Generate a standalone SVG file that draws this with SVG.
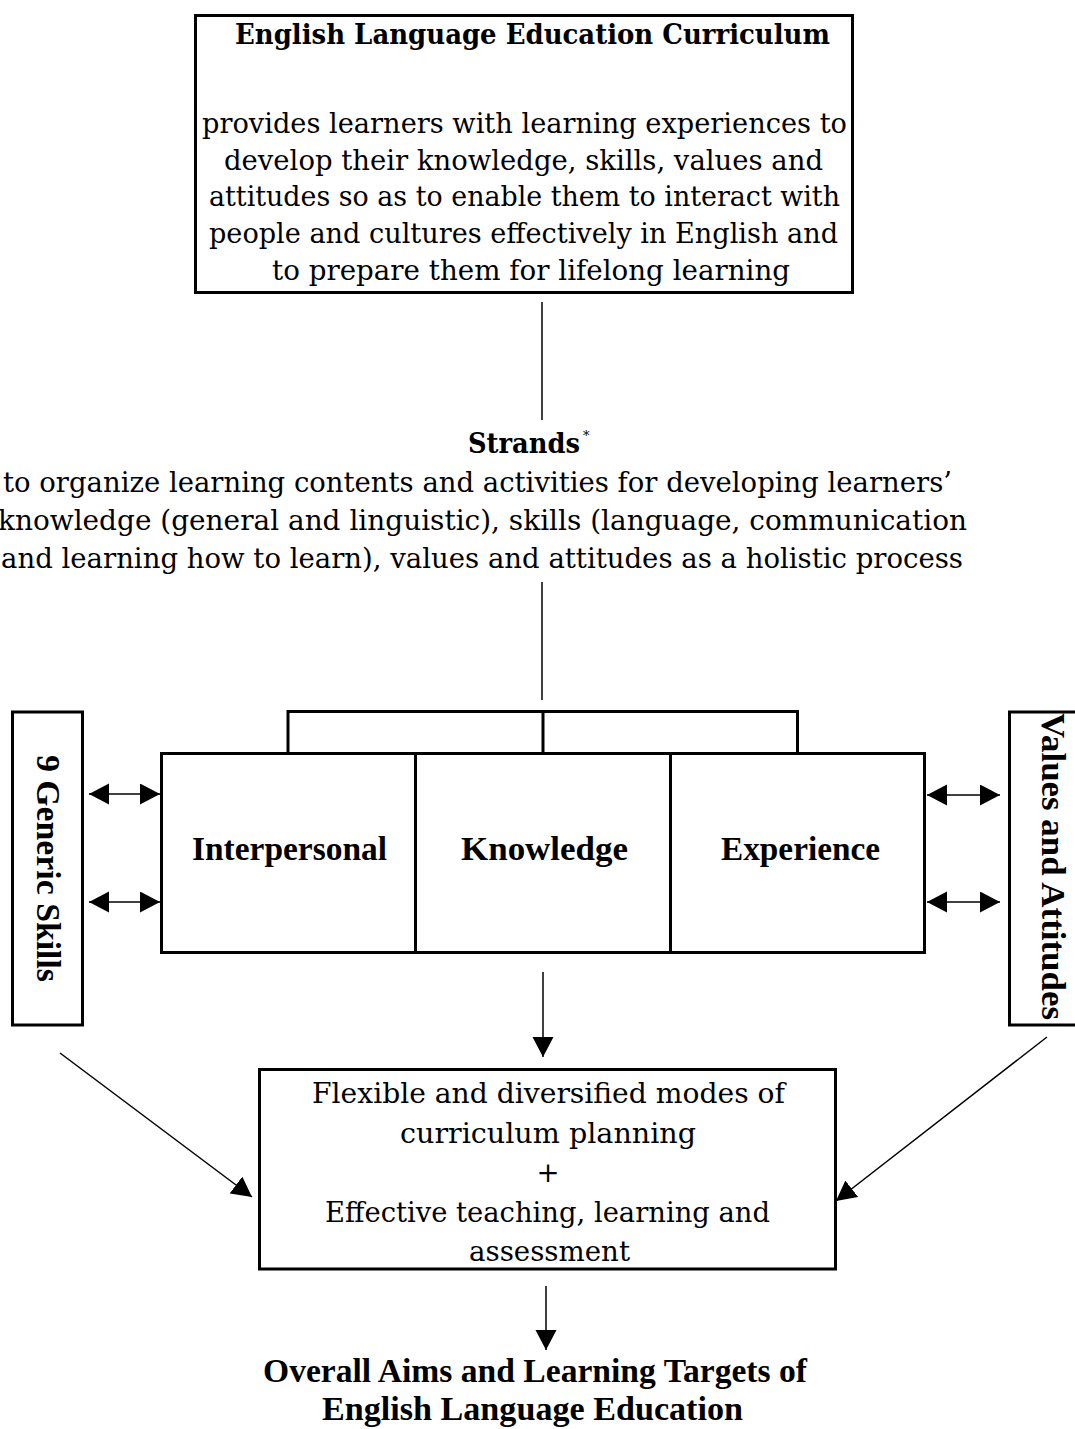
<svg xmlns="http://www.w3.org/2000/svg" width="1075" height="1429" viewBox="0 0 1075 1429">
<style>
.box{fill:#fff;stroke:#000;stroke-width:3}
.con{fill:none;stroke:#000;stroke-width:1.5}
.brk{fill:none;stroke:#000;stroke-width:3}
.body{font-family:"DejaVu Serif","Liberation Serif",serif;font-size:27.5px;fill:#000;text-anchor:middle}
.hd{font-family:"DejaVu Serif","Liberation Serif",serif;font-size:27px;font-weight:bold;fill:#000;text-anchor:middle}
.tb{font-family:"Liberation Serif","Times New Roman",serif;font-size:33px;font-weight:bold;fill:#000;text-anchor:middle}
</style>
<defs>
<marker id="ah" markerUnits="userSpaceOnUse" markerWidth="22" markerHeight="22" refX="20" refY="10.5" orient="auto-start-reverse" viewBox="0 0 22 22">
<path d="M0,0 L20,10.5 L0,21 z" fill="#000"/>
</marker>
</defs>
<g id="connectors">
<line class="con" x1="542" y1="302" x2="542" y2="420"/>
<line class="con" x1="542" y1="582" x2="542" y2="700"/>
<path class="brk" d="M288,753 V711.5 H797.5 V753 M543,711.5 V753"/>
<line class="con" x1="89" y1="794" x2="160" y2="794" marker-start="url(#ah)" marker-end="url(#ah)"/>
<line class="con" x1="89" y1="902" x2="160" y2="902" marker-start="url(#ah)" marker-end="url(#ah)"/>
<line class="con" x1="927" y1="795" x2="1000" y2="795" marker-start="url(#ah)" marker-end="url(#ah)"/>
<line class="con" x1="927" y1="902" x2="1000" y2="902" marker-start="url(#ah)" marker-end="url(#ah)"/>
<line class="con" x1="543" y1="972" x2="543" y2="1057" marker-end="url(#ah)"/>
<line class="con" x1="546" y1="1286" x2="546" y2="1350" marker-end="url(#ah)"/>
<line class="con" x1="60" y1="1053" x2="252" y2="1197" marker-end="url(#ah)"/>
<line class="con" x1="1047" y1="1037" x2="836" y2="1201" marker-end="url(#ah)"/>
</g>
<g id="curriculum">
<rect class="box" x="195.5" y="15.5" width="657" height="277"/>
<text class="hd" x="532.5" y="44" textLength="595" lengthAdjust="spacingAndGlyphs">English Language Education Curriculum</text>
<text class="body" x="524.5" y="133" textLength="645" lengthAdjust="spacingAndGlyphs">provides learners with learning experiences to</text>
<text class="body" x="523.5" y="170" textLength="599" lengthAdjust="spacingAndGlyphs">develop their knowledge, skills, values and</text>
<text class="body" x="524.5" y="206" textLength="631" lengthAdjust="spacingAndGlyphs">attitudes so as to enable them to interact with</text>
<text class="body" x="523.5" y="243" textLength="629" lengthAdjust="spacingAndGlyphs">people and cultures effectively in English and</text>
<text class="body" x="531" y="280" textLength="518" lengthAdjust="spacingAndGlyphs">to prepare them for lifelong learning</text>
</g>
<g id="strands">
<text class="hd" x="524" y="453" font-size="28" textLength="112" lengthAdjust="spacingAndGlyphs">Strands</text>
<text x="583" y="440" font-family="DejaVu Serif, serif" font-size="13" fill="#000">*</text>
<text class="body" x="477.5" y="492" textLength="949" lengthAdjust="spacingAndGlyphs">to organize learning contents and activities for developing learners’</text>
<text class="body" x="482.5" y="530" textLength="969" lengthAdjust="spacingAndGlyphs">knowledge (general and linguistic), skills (language, communication</text>
<text class="body" x="482" y="568" textLength="962" lengthAdjust="spacingAndGlyphs">and learning how to learn), values and attitudes as a holistic process</text>
</g>
<g id="generic-skills">
<rect class="box" x="12.5" y="712" width="70" height="313"/>
<text class="tb" font-size="34" transform="translate(37,868.5) rotate(90)" textLength="227" lengthAdjust="spacingAndGlyphs">9 Generic Skills</text>
</g>
<g id="values-attitudes">
<rect class="box" x="1009.5" y="712" width="80" height="313"/>
<text class="tb" font-size="34" transform="translate(1042,866.5) rotate(90)" textLength="307" lengthAdjust="spacingAndGlyphs">Values and Attitudes</text>
</g>
<g id="strand-boxes">
<rect class="box" x="161.5" y="753.5" width="763" height="199"/>
<line class="brk" x1="415.5" y1="753.5" x2="415.5" y2="952.5"/>
<line class="brk" x1="670.5" y1="753.5" x2="670.5" y2="952.5"/>
</g>
<g id="interpersonal"><text class="tb" x="289.5" y="860" textLength="195" lengthAdjust="spacingAndGlyphs">Interpersonal</text></g>
<g id="knowledge"><text class="tb" x="544.5" y="860" textLength="167" lengthAdjust="spacingAndGlyphs">Knowledge</text></g>
<g id="experience"><text class="tb" x="800.5" y="860" textLength="159" lengthAdjust="spacingAndGlyphs">Experience</text></g>
<g id="planning">
<rect class="box" x="259.5" y="1069.5" width="576" height="199.5"/>
<text class="body" x="548.5" y="1103" textLength="473" lengthAdjust="spacingAndGlyphs">Flexible and diversified modes of</text>
<text class="body" x="548" y="1142.5" textLength="296" lengthAdjust="spacingAndGlyphs">curriculum planning</text>
<text class="body" x="548" y="1182">+</text>
<text class="body" x="547.5" y="1222" textLength="445" lengthAdjust="spacingAndGlyphs">Effective teaching, learning and</text>
<text class="body" x="549.5" y="1261" textLength="161" lengthAdjust="spacingAndGlyphs">assessment</text>
</g>
<g id="aims">
<text class="tb" x="535" y="1382" textLength="544" lengthAdjust="spacingAndGlyphs">Overall Aims and Learning Targets of</text>
<text class="tb" x="532.5" y="1420" textLength="421" lengthAdjust="spacingAndGlyphs">English Language Education</text>
</g>
</svg>
